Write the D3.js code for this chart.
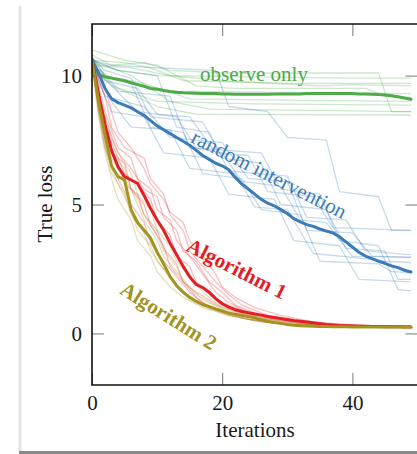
<!DOCTYPE html>
<html>
<head>
<meta charset="utf-8">
<script src="https://cdn.jsdelivr.net/npm/d3@7"></script>
<style>
html,body{margin:0;padding:0;background:#fff;}
svg{display:block;}
text{font-family:"Liberation Serif","DejaVu Serif",serif;}
</style>
</head>
<body>
<svg id="chart" width="417" height="454"></svg>
<script>
// ---------- data ----------
const iterations = d3.range(0, 50);
const xTicks = [0, 20, 40];
const yTicks = [0, 5, 10];

const observeMean = [10.6, 10.05, 9.95, 9.9, 9.85, 9.8, 9.72, 9.65, 9.58, 9.5,
  9.47, 9.42, 9.38, 9.35, 9.33, 9.32, 9.31, 9.3, 9.3, 9.3,
  9.29, 9.29, 9.28, 9.28, 9.28, 9.28, 9.28, 9.28, 9.29, 9.29,
  9.29, 9.29, 9.29, 9.3, 9.3, 9.3, 9.3, 9.3, 9.3, 9.3,
  9.3, 9.29, 9.29, 9.28, 9.27, 9.25, 9.22, 9.18, 9.13, 9.08];
const randomMean = [10.6, 10.1, 9.5, 9.1, 8.95, 8.85, 8.75, 8.6, 8.45, 8.25,
  8.05, 7.9, 7.75, 7.6, 7.45, 7.3, 7.1, 6.9, 6.75, 6.6,
  6.5, 6.35, 6.05, 5.8, 5.6, 5.4, 5.2, 5.05, 4.95, 4.8,
  4.65, 4.45, 4.33, 4.22, 4.15, 4.05, 3.97, 3.9, 3.75, 3.55,
  3.35, 3.15, 3.0, 2.9, 2.8, 2.72, 2.62, 2.55, 2.45, 2.38];
const alg1Mean = [10.6, 9.3, 8.1, 7.1, 6.46, 6.08, 5.95, 5.82, 5.35, 4.85,
  4.4, 4.0, 3.5, 3.05, 2.6, 2.2, 1.9, 1.78, 1.6, 1.35,
  1.15, 1.02, 0.92, 0.85, 0.8, 0.75, 0.71, 0.66, 0.62, 0.58,
  0.54, 0.5, 0.47, 0.44, 0.41, 0.38, 0.35, 0.33, 0.31, 0.3,
  0.29, 0.28, 0.28, 0.27, 0.27, 0.26, 0.26, 0.26, 0.25, 0.25];
const alg2Mean = [10.6, 9.0, 7.7, 6.5, 6.08, 5.95, 4.8, 4.3, 4.0, 3.7,
  3.15, 2.7, 2.2, 1.85, 1.6, 1.4, 1.25, 1.12, 1.04, 0.95,
  0.87, 0.79, 0.74, 0.7, 0.66, 0.6, 0.53, 0.47, 0.42, 0.39,
  0.35, 0.32, 0.3, 0.29, 0.28, 0.27, 0.27, 0.26, 0.26, 0.26,
  0.25, 0.25, 0.25, 0.25, 0.25, 0.25, 0.25, 0.25, 0.25, 0.25];

// individual runs as [iteration, loss] breakpoints
const observeRuns = [
  [[0,10.8],[3,10.4],[8,10.5],[12,10.2],[20,10.1],[35,10.1],[44,10.1],[46,8.6],[49,8.6]],
  [[0,10.5],[4,10.2],[10,10.0],[25,9.95],[40,9.9],[49,9.9]],
  [[0,10.6],[5,10.5],[9,10.3],[14,9.8],[30,9.7],[49,9.7]],
  [[0,10.4],[3,9.9],[12,9.4],[30,9.35],[49,9.3]],
  [[0,10.7],[2,10.0],[8,9.7],[15,9.1],[30,9.05],[49,9.0]],
  [[0,10.3],[3,9.6],[10,9.0],[25,8.9],[49,8.85]],
  [[0,10.6],[6,10.0],[12,9.0],[18,8.7],[49,8.6]],
  [[0,10.5],[4,9.5],[10,8.8],[16,8.5],[49,8.47]],
  [[0,11.0],[5,10.6],[10,10.4],[16,9.6],[22,9.5],[42,9.5],[45,9.2],[49,9.15]],
  [[0,10.4],[6,10.3],[12,10.0],[20,9.8],[35,9.6],[40,9.65],[49,9.6]]
];
const randomRuns = [
  [[0,10.6],[3,10.4],[10,10.3],[19,10.2],[21,8.8],[27,8.6],[30,7.6],[36,7.5],[38,5.5],[44,5.3],[46,4.0],[49,4.0]],
  [[0,10.5],[2,9.2],[8,8.8],[12,7.6],[20,7.4],[24,6.0],[30,5.9],[33,4.0],[40,3.9],[43,3.0],[49,2.95]],
  [[0,10.7],[2,10.0],[6,9.7],[9,8.0],[14,7.8],[17,6.2],[23,6.0],[26,4.8],[32,4.6],[35,2.8],[44,2.7],[46,2.4],[49,2.35]],
  [[0,10.4],[3,8.6],[8,8.4],[11,7.0],[18,6.8],[21,5.4],[28,5.2],[31,3.6],[38,3.4],[41,2.1],[49,2.0]],
  [[0,10.6],[4,10.2],[10,10.0],[13,8.0],[18,7.8],[21,6.3],[30,6.1],[33,4.5],[39,4.4],[42,3.2],[49,3.05]],
  [[0,10.5],[2,9.8],[7,9.5],[10,8.5],[15,8.4],[19,7.0],[24,6.9],[27,5.5],[34,5.3],[37,4.1],[49,4.0]],
  [[0,10.6],[3,9.0],[6,8.0],[12,7.9],[15,6.4],[22,6.2],[25,4.9],[30,4.8],[34,3.1],[42,2.9],[45,2.8],[49,2.75]],
  [[0,10.5],[4,9.4],[12,9.2],[15,7.2],[26,7.0],[29,5.6],[35,5.4],[38,3.6],[44,3.4],[47,1.7],[49,1.65]],
  [[0,10.7],[2,10.2],[6,9.9],[9,8.4],[17,8.2],[20,6.8],[26,6.6],[29,5.0],[36,4.8],[39,3.3],[45,3.2],[47,2.1],[49,2.1]],
  [[0,10.4],[3,9.6],[7,8.6],[13,8.4],[16,7.2],[20,7.0],[23,5.9],[29,5.7],[32,4.4],[36,4.3],[40,3.0],[49,2.95]]
];
const alg1Runs = [
  [[0,10.6],[1,9.0],[2,7.8],[3,7.0],[5,6.6],[6,5.6],[8,5.0],[9,4.2],[11,3.4],[12,2.6],[14,2.0],[16,1.4],[18,1.0],[21,0.7],[26,0.45],[32,0.3],[49,0.25]],
  [[0,10.7],[1,9.6],[2,8.6],[4,7.2],[6,6.8],[7,6.0],[9,5.6],[10,4.8],[12,4.4],[13,3.6],[15,3.0],[17,2.3],[19,1.6],[21,1.2],[24,0.8],[28,0.55],[34,0.35],[49,0.27]],
  [[0,10.5],[1,8.6],[2,7.2],[3,6.5],[4,6.0],[6,5.0],[8,4.3],[9,3.5],[11,2.8],[13,2.2],[15,1.6],[17,1.2],[20,0.85],[24,0.55],[30,0.35],[49,0.25]],
  [[0,10.6],[2,9.2],[3,8.0],[5,7.2],[8,6.8],[9,6.0],[11,5.4],[12,4.6],[14,4.0],[15,3.2],[17,2.6],[19,2.0],[21,1.5],[23,1.1],[27,0.7],[32,0.45],[40,0.3],[49,0.28]],
  [[0,10.8],[1,9.4],[2,8.2],[3,7.4],[5,6.2],[7,5.8],[9,5.2],[10,4.4],[12,3.8],[13,3.0],[15,2.6],[16,2.0],[18,1.5],[20,1.2],[23,0.9],[27,0.6],[33,0.35],[49,0.27]],
  [[0,10.5],[1,9.2],[3,7.6],[4,7.0],[6,6.4],[8,5.6],[10,5.3],[11,4.5],[13,4.0],[14,3.2],[16,2.8],[18,2.0],[20,1.6],[22,1.1],[25,0.8],[30,0.5],[36,0.33],[49,0.26]],
  [[0,10.6],[1,8.8],[2,7.6],[4,6.6],[5,5.8],[7,5.4],[8,4.6],[10,4.0],[11,3.3],[13,2.7],[14,2.0],[16,1.6],[18,1.3],[20,1.0],[24,0.7],[29,0.45],[35,0.3],[49,0.26]],
  [[0,10.7],[2,9.6],[3,8.6],[4,7.8],[6,7.2],[8,6.4],[9,5.8],[11,5.2],[12,4.7],[14,4.3],[15,3.6],[17,3.0],[19,2.3],[20,1.8],[22,1.4],[25,1.0],[29,0.7],[34,0.45],[42,0.3],[49,0.27]]
];
const alg2Runs = [
  [[0,10.6],[1,8.8],[2,7.4],[3,6.4],[4,5.8],[6,4.8],[7,4.0],[9,3.4],[10,2.8],[12,2.2],[14,1.6],[16,1.2],[19,0.9],[23,0.6],[28,0.4],[34,0.28],[49,0.25]],
  [[0,10.5],[1,9.2],[2,8.0],[3,7.0],[5,6.4],[6,5.6],[7,5.0],[8,4.4],[10,3.6],[11,3.0],[13,2.4],[15,1.8],[17,1.3],[20,0.95],[24,0.65],[29,0.4],[35,0.28],[49,0.25]],
  [[0,10.7],[1,8.6],[2,7.2],[3,6.2],[5,5.4],[6,4.6],[8,3.9],[9,3.2],[11,2.5],[13,1.8],[15,1.3],[18,0.95],[22,0.65],[27,0.42],[32,0.3],[49,0.25]],
  [[0,10.6],[1,9.4],[2,8.4],[4,7.0],[6,6.2],[7,5.4],[9,4.8],[10,4.0],[12,3.4],[13,2.8],[15,2.2],[17,1.6],[19,1.2],[22,0.9],[26,0.6],[31,0.4],[38,0.28],[49,0.25]],
  [[0,10.4],[1,8.4],[2,7.0],[3,6.0],[4,5.2],[6,4.4],[7,3.6],[9,3.0],[10,2.4],[12,1.8],[14,1.4],[17,1.0],[21,0.7],[25,0.5],[31,0.32],[49,0.24]],
  [[0,10.6],[1,9.0],[2,7.8],[3,6.8],[5,6.0],[7,5.2],[8,4.6],[10,3.8],[11,3.2],[13,2.6],[14,2.0],[16,1.5],[19,1.1],[23,0.8],[27,0.55],[33,0.35],[49,0.26]]
];

const labels = ["observe only", "random intervention", "Algorithm 1", "Algorithm 2"];
const colors = ["#4dab48", "#3a7bb8", "#e31e24", "#a3931f"];

// ---------- drawing ----------
const svg = d3.select("#chart");
const x = d3.scaleLinear().domain([0, 50]).range([92, 417.5]);
const y = d3.scaleLinear().domain([-2, 12]).range([385, 24]);

// page edge decoration
svg.append("line").attr("x1", 20).attr("x2", 20).attr("y1", 6).attr("y2", 452)
  .attr("stroke", "#e4e4e4").attr("stroke-width", 3);
svg.append("line").attr("x1", 19).attr("x2", 417).attr("y1", 452.5).attr("y2", 452.5)
  .attr("stroke", "#8a8a8a").attr("stroke-width", 3);

svg.append("clipPath").attr("id", "clip").append("rect")
  .attr("x", x(0)).attr("y", y(12)).attr("width", x(50) - x(0)).attr("height", y(-2) - y(12));

const plot = svg.append("g").attr("clip-path", "url(#clip)");
const runLine = d3.line().x(d => x(d[0])).y(d => y(d[1]));
const meanLine = d3.line().x((d, i) => x(iterations[i])).y(d => y(d));

const allRuns = [observeRuns, randomRuns, alg1Runs, alg2Runs];
allRuns.forEach((runs, k) => {
  plot.append("g").selectAll("path").data(runs).join("path")
    .attr("d", runLine).attr("fill", "none")
    .attr("stroke", colors[k]).attr("stroke-opacity", 0.28)
    .attr("stroke-width", 1.3).attr("stroke-linejoin", "round");
});

const means = [observeMean, randomMean, alg1Mean, alg2Mean];
means.forEach((m, k) => {
  plot.append("path").datum(m).attr("d", meanLine).attr("fill", "none")
    .attr("stroke", colors[k]).attr("stroke-width", 3)
    .attr("stroke-linejoin", "round").attr("stroke-linecap", "round");
});

// axes (ticks inward)
const tickStyle = g => {
  g.select(".domain").remove();
  g.selectAll(".tick line").attr("stroke", "#777").attr("stroke-width", 1);
  g.selectAll(".tick text").attr("fill", "#1a1a1a")
    .style("font-family", "'Liberation Serif', serif").style("font-size", "21px");
};
svg.append("g").attr("transform", `translate(${x(0)},0)`)
  .call(d3.axisLeft(y).tickValues(yTicks).tickFormat(d3.format("d")).tickSizeInner(-12).tickSizeOuter(0).tickPadding(10))
  .call(tickStyle);
svg.append("g").attr("transform", `translate(${x(50)},0)`)
  .call(d3.axisRight(y).tickValues(yTicks).tickFormat("").tickSizeInner(-12).tickSizeOuter(0))
  .call(tickStyle);
svg.append("g").attr("transform", `translate(0,${y(-2)})`)
  .call(d3.axisBottom(x).tickValues(xTicks).tickFormat(d3.format("d")).tickSizeInner(-12).tickSizeOuter(0).tickPadding(10))
  .call(tickStyle);
svg.append("g").attr("transform", `translate(0,${y(12)})`)
  .call(d3.axisTop(x).tickValues(xTicks).tickFormat("").tickSizeInner(-12).tickSizeOuter(0))
  .call(tickStyle);

// frame (left, top, bottom; right edge lies at the window border)
svg.append("path")
  .attr("d", `M${x(50) + 2},${y(12)}H${x(0)}V${y(-2)}H${x(50) + 2}`)
  .attr("fill", "none").attr("stroke", "#111").attr("stroke-width", 1.6);

// axis titles
svg.append("text").attr("x", 255).attr("y", 437).attr("text-anchor", "middle")
  .attr("fill", "#1a1a1a").style("font-size", "21px").text("Iterations");
svg.append("text").attr("transform", "translate(52,204) rotate(-90)").attr("text-anchor", "middle")
  .attr("fill", "#1a1a1a").style("font-size", "21px").text("True loss");

// in-plot labels
const lab = [
  {t: labels[0], c: colors[0], x: 254, y: 80.5, a: 0, w: "normal"},
  {t: labels[1], c: colors[1], x: 266, y: 180.5, a: 27, w: "normal"},
  {t: labels[2], c: colors[2], x: 233.5, y: 275, a: 27, w: "bold"},
  {t: labels[3], c: colors[3], x: 165, y: 322, a: 32, w: "bold"}
];
svg.append("g").selectAll("text").data(lab).join("text")
  .attr("transform", d => `translate(${d.x},${d.y}) rotate(${d.a})`)
  .attr("text-anchor", "middle").attr("fill", d => d.c)
  .style("font-size", "21px").style("font-weight", d => d.w)
  .text(d => d.t);
</script>
</body>
</html>
